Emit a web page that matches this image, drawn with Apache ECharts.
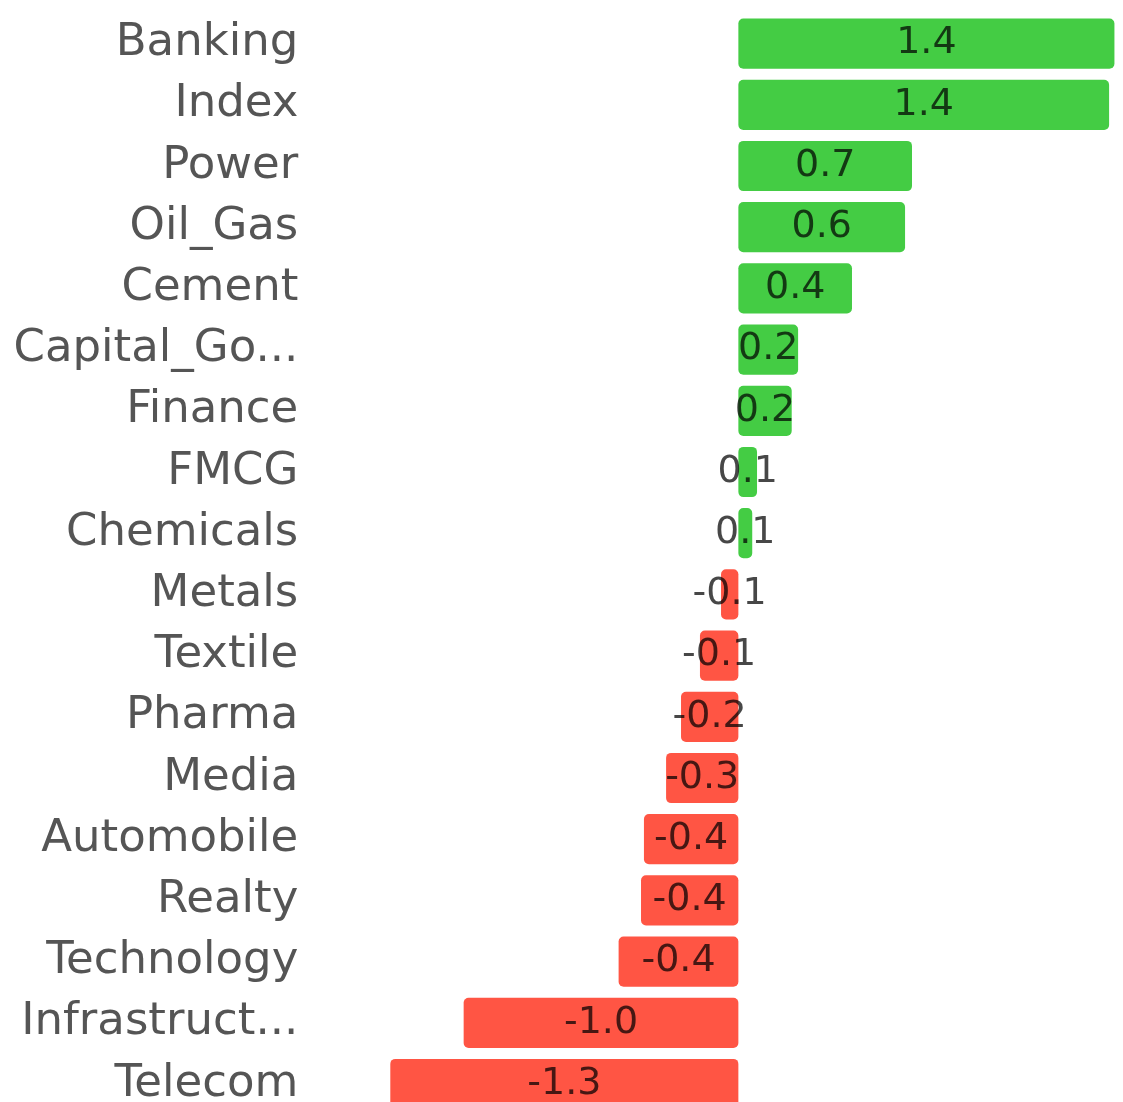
<!DOCTYPE html>
<html>
<head>
<meta charset="utf-8">
<script src="https://cdn.jsdelivr.net/npm/echarts@6/dist/echarts.min.js"></script>
<style>
html,body{margin:0;padding:0;background:#fff;overflow:hidden;}
#chart{width:1123px;height:1115px;}
</style>
</head>
<body>
<div id="chart"></div>
<script>
const categories = ['Banking','Index','Power','Oil_Gas','Cement','Capital_Go...','Finance','FMCG','Chemicals','Metals','Textile','Pharma','Media','Automobile','Realty','Technology','Infrastruct...','Telecom'];
const values = [1.41,1.39,0.651,0.625,0.426,0.224,0.2,0.07,0.052,-0.065,-0.144,-0.215,-0.271,-0.354,-0.365,-0.449,-1.03,-1.305];
const posColor = '#44cc44';
const negColor = '#ff5544';

const chart = echarts.init(document.getElementById('chart'));
chart.setOption({
  animation: false,
  grid: { left: 378.3, right: 5.9, top: 13, bottom: 0.4, containLabel: false },
  xAxis: {
    type: 'value', min: -1.35, max: 1.42, show: false,
    splitLine: { show: false }
  },
  yAxis: {
    type: 'category', data: categories, inverse: true,
    axisLine: { show: false }, axisTick: { show: false },
    axisLabel: { margin: 80, fontSize: 45, color: '#555', fontFamily: 'DejaVu Sans', padding: [0, 0, 8, 0] }
  },
  series: [{
    type: 'bar',
    data: values,
    barCategoryGap: '18%',
    itemStyle: {
      borderRadius: 5,
      color: p => p.value >= 0 ? posColor : negColor
    },
    label: {
      show: true, position: 'inside',
      fontSize: 38, fontFamily: 'DejaVu Sans', color: 'rgba(0,0,0,0.72)',
      formatter: p => p.value.toFixed(1)
    }
  }]
});
</script>
</body>
</html>
